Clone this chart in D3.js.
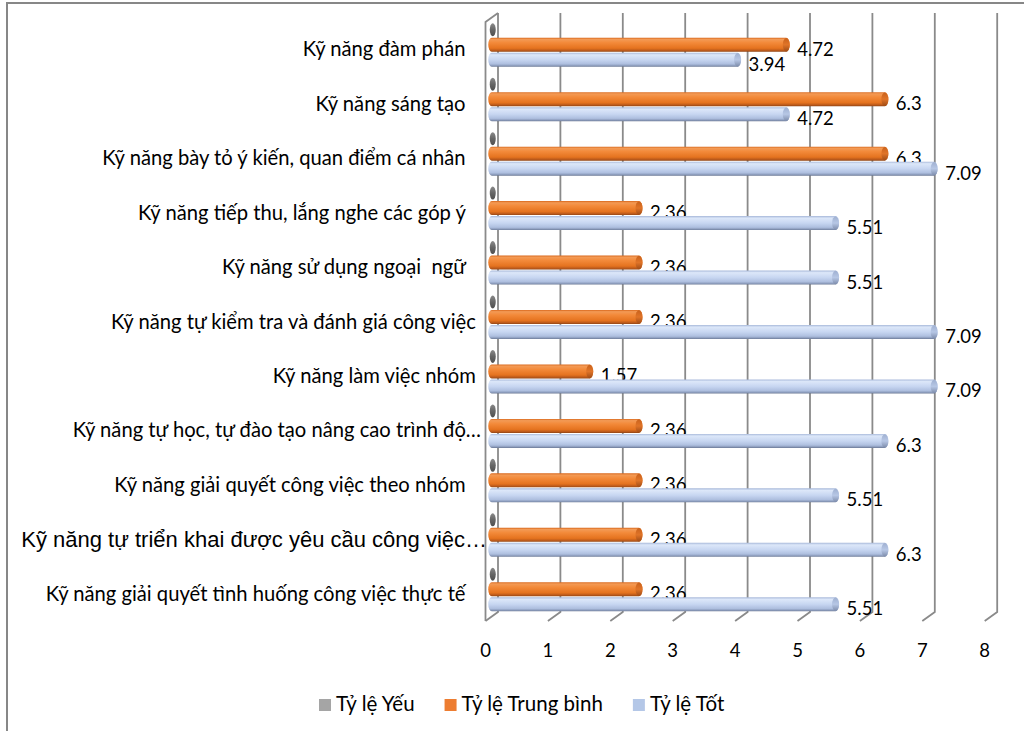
<!DOCTYPE html>
<html>
<head>
<meta charset="utf-8">
<script src="https://cdn.jsdelivr.net/npm/d3@7"></script>
<style>
  html, body { margin: 0; padding: 0; background: #fff; }
  svg { display: block; }
  text { font-family: Lato, "Noto Sans", sans-serif; fill: #000; }
</style>
</head>
<body>
<script>
// ---------------- DATA ----------------
const categories = [
  "Kỹ năng đàm phán   ",
  "Kỹ năng sáng tạo   ",
  "Kỹ năng bày tỏ ý kiến, quan điểm cá nhân   ",
  "Kỹ năng tiếp thu, lắng nghe các góp ý   ",
  "Kỹ năng sử dụng ngoại  ngữ   ",
  "Kỹ năng tự kiểm tra và đánh giá công việc ",
  "Kỹ năng làm việc nhóm ",
  "Kỹ năng tự học, tự đào tạo nâng cao trình độ…",
  "Kỹ năng giải quyết công việc theo nhóm   ",
  "Kỹ năng tự triển khai được yêu cầu công việc…",
  "Kỹ năng giải quyết tình huống công việc thực tế   "
];
const seriesNames = ["Tỷ lệ Yếu", "Tỷ lệ Trung bình", "Tỷ lệ Tốt"];
const yeu       = [0, 0, 0, 0, 0, 0, 0, 0, 0, 0, 0];
const trungBinh = [4.72, 6.3, 6.3, 2.36, 2.36, 2.36, 1.57, 2.36, 2.36, 2.36, 2.36];
const tot       = [3.94, 4.72, 7.09, 5.51, 5.51, 7.09, 7.09, 6.3, 5.51, 6.3, 5.51];
const xTicks    = [0, 1, 2, 3, 4, 5, 6, 7, 8];

// ---------------- LAYOUT / STYLE ----------------
const W = 1024, H = 731;
const depthX = -12.5, depthY = 9;           // oblique 3D depth (back -> front)
const arialLabelIndex = 9;                  // this label is set in an Arial-like face
const seriesValues = [yeu, trungBinh, tot];

const svg = d3.select("body").append("svg")
  .attr("width", W).attr("height", H);

const defs = svg.append("defs");
function grad(id, stops) {
  const g = defs.append("linearGradient").attr("id", id)
    .attr("x1", 0).attr("y1", 0).attr("x2", 0).attr("y2", 1);
  stops.forEach(([o, c]) => g.append("stop").attr("offset", o).attr("stop-color", c));
}
grad("gOrange", [[0, "#d9681c"], [0.12, "#f39a55"], [0.35, "#f38a3a"], [0.75, "#e5731f"], [0.92, "#b9581a"], [1, "#8f4414"]]);
grad("gOrangeCap", [[0, "#c9621c"], [0.5, "#e07428"], [1, "#a04c16"]]);
grad("gBlue", [[0, "#a8b9da"], [0.15, "#dce7f9"], [0.5, "#c7d6f1"], [0.8, "#aebfdf"], [0.93, "#8a9aba"], [1, "#6a7894"]]);
grad("gBlueCap", [[0, "#9fb0d1"], [0.5, "#b7c7e5"], [1, "#7d8cab"]]);
grad("gGray", [[0, "#8a8a8a"], [0.5, "#666666"], [1, "#4f4f4f"]]);

const fills = ["url(#gGray)", "url(#gOrange)", "url(#gBlue)"];
const capFills = ["url(#gGray)", "url(#gOrangeCap)", "url(#gBlueCap)"];
const legendColors = ["#a5a5a5", "#ed7d31", "#b4c7e7"];

// scales (back wall plane)
const x = d3.scaleLinear().domain([0, 8]).range([498, 997.2]);
const y = d3.scaleBand().domain(d3.range(categories.length)).range([13, 612]);
const ySeries = d3.scaleBand().domain(d3.range(3)).range([0, y.bandwidth()])
  .paddingInner(0).paddingOuter(0.315);

// outer chart border (left + top)
svg.append("path")
  .attr("d", d3.line()([[7, H], [7, 3], [W, 3]]))
  .attr("fill", "none").attr("stroke", "#878787").attr("stroke-width", 2);

// ---------- walls / gridlines ----------
const gridColor = "#8a8a8a";
const walls = svg.append("g").attr("fill", "none").attr("stroke", gridColor).attr("stroke-width", 1.8);
const [yTop, yBot] = y.range();
xTicks.forEach(t => {
  walls.append("path").attr("d", d3.line()([
    [x(t), yTop], [x(t), yBot], [x(t) + depthX, yBot + depthY]
  ]));
});
walls.append("path").attr("d", d3.line()([
  [x(0) + depthX, yBot + depthY], [x(0) + depthX, yTop + depthY], [x(0), yTop]
]));

// ---------- bars (cylinders at mid depth) ----------
const midX = depthX / 2, midY = depthY / 2;
const barH = 14, rx = 3.5, ry = barH / 2;
const barsG = svg.append("g");
categories.forEach((c, i) => {
  seriesValues.forEach((vals, s) => {
    const v = vals[i];
    const yc = y(i) + ySeries(s) + ySeries.bandwidth() / 2 + midY;
    const x0 = x(0) + midX, x1 = x(v) + midX;
    const yt = yc - ry, yb = yc + ry;
    if (v > 0) {
      barsG.append("path")
        .attr("d", `M${x0},${yt} L${x1},${yt} A${rx},${ry} 0 0 1 ${x1},${yb} L${x0},${yb} A${rx},${ry} 0 0 1 ${x0},${yt} Z`)
        .attr("fill", fills[s]);
      barsG.append("ellipse")
        .attr("cx", x1).attr("cy", yc).attr("rx", rx).attr("ry", ry - 0.3)
        .attr("fill", capFills[s]);
      barsG.append("text")
        .attr("x", x1 + rx + 7.5).attr("y", yc + 11)
        .attr("font-size", 18.5)
        .text(String(v));
    } else {
      barsG.append("ellipse")
        .attr("cx", x0 + 1).attr("cy", yc).attr("rx", 3).attr("ry", 6.5)
        .attr("fill", capFills[s]);
    }
  });
});

// ---------- category labels ----------
const labelG = svg.append("g");
categories.forEach((c, i) => {
  const cy = y(i) + y.bandwidth() / 2 + depthY;
  const t = labelG.append("text")
    .attr("x", 481).attr("y", cy + 7)
    .attr("text-anchor", "end")
    .style("white-space", "pre")
    .attr("font-size", 20.2)
    .text(c);
  if (i === arialLabelIndex) {
    t.style("font-family", "'Liberation Sans', Arial, sans-serif").attr("font-size", 22).attr("x", 487).attr("y", cy + 7.5);
  }
});

// ---------- x axis tick labels (front plane) ----------
svg.append("g").selectAll("text").data(xTicks).join("text")
  .attr("x", d => x(d) + depthX).attr("y", yBot + depthY + 36)
  .attr("text-anchor", "middle").attr("font-size", 18.5)
  .text(d => d);

// ---------- legend ----------
const legend = svg.append("g");
let lx = 319;
seriesNames.forEach((n, s) => {
  legend.append("rect").attr("x", lx).attr("y", 699).attr("width", 12).attr("height", 12)
    .attr("fill", legendColors[s]);
  const t = legend.append("text").attr("x", lx + 17).attr("y", 711)
    .attr("font-size", 20.5).text(n);
  lx += 17 + t.node().getComputedTextLength() + 30;
});
</script>
</body>
</html>
